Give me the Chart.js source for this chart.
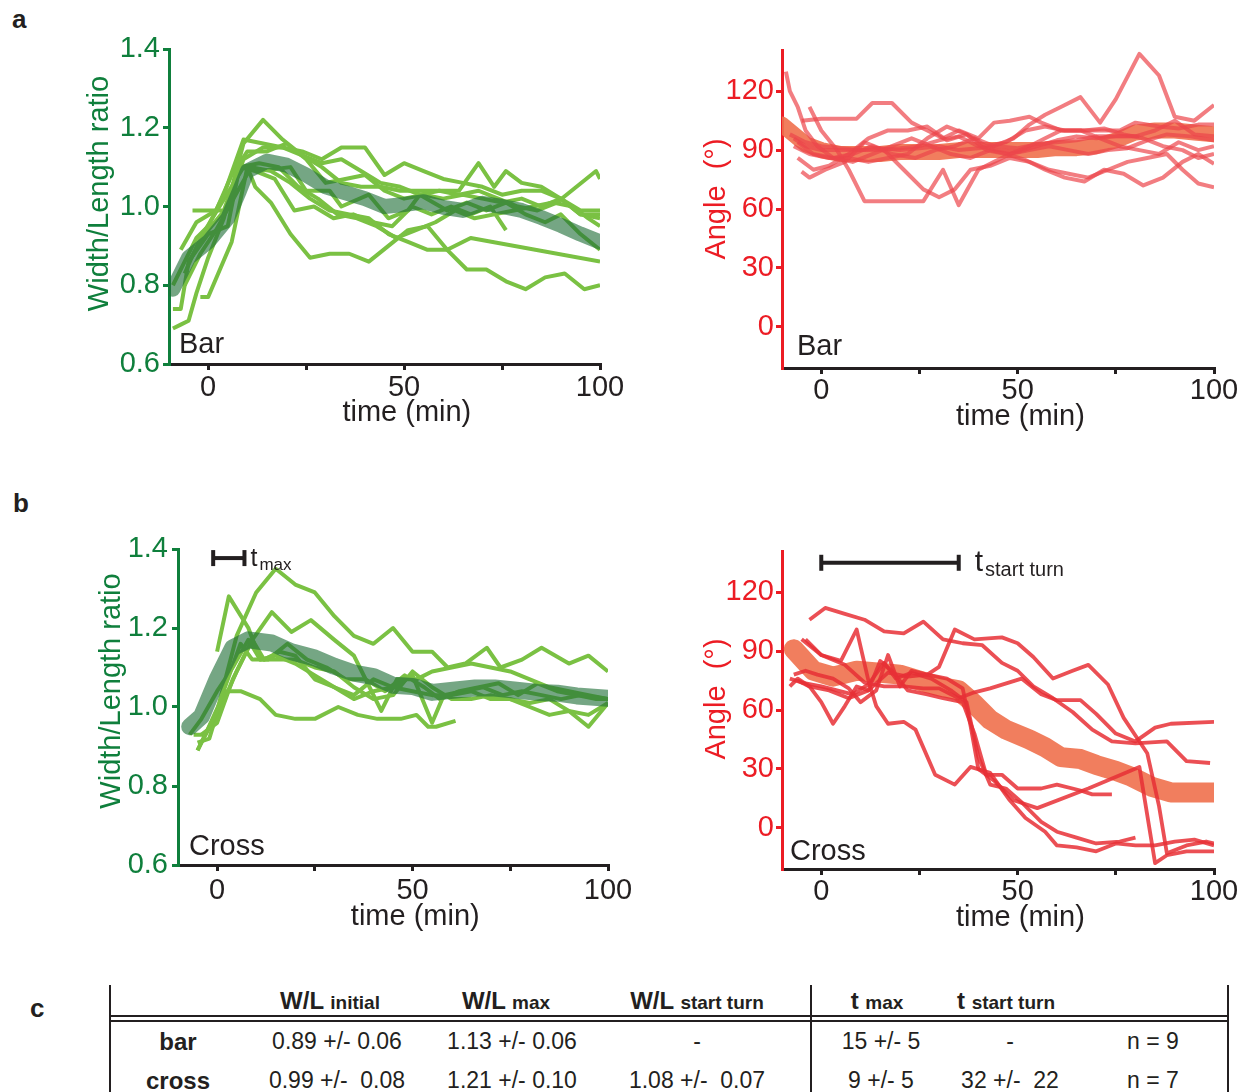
<!DOCTYPE html>
<html>
<head>
<meta charset="utf-8">
<script src="https://cdn.jsdelivr.net/npm/chart.js@4.4.1/dist/chart.umd.min.js"></script>
<style>
  body { margin: 0; background: #fff; }
  #page { position: relative; width: 1242px; height: 1092px; overflow: hidden; background: #fff;
          font-family: 'Liberation Sans', Arial, Helvetica, sans-serif; color: #231f20; }
  canvas { position: absolute; }
  .letter { position: absolute; font-weight: bold; font-size: 26px; line-height: 26px; }
  .cell { position: absolute; white-space: pre; transform: translate(-50%, -50%); font-size: 23px; line-height: 23px; }
  .head { font-weight: bold; font-size: 24px; }
  .head small { font-size: 19px; }
  .bold { font-weight: bold; font-size: 24px; }
  .rule { position: absolute; background: #231f20; }
</style>
</head>
<body>
<div id="page">
  <canvas id="barRatioChart" width="580" height="420" style="left:60px;top:20px"></canvas>
  <canvas id="barAngleChart" width="562" height="420" style="left:680px;top:20px"></canvas>
  <canvas id="crossRatioChart" width="580" height="420" style="left:60px;top:520px"></canvas>
  <canvas id="crossAngleChart" width="562" height="420" style="left:680px;top:520px"></canvas>
  <div class="letter" style="left:12px;top:6px">a</div>
  <div class="letter" style="left:13px;top:490px">b</div>
  <div class="letter" style="left:30px;top:995px">c</div>
  <div id="table"></div>
</div>
<script>
// axis ticks
const timeTicks = [0, 25, 50, 75, 100];
const timeTickLabels = ['0', '', '50', '', '100'];
const ratioTicks = [0.6, 0.8, 1.0, 1.2, 1.4];
const ratioTickLabels = ['0.6', '0.8', '1.0', '1.2', '1.4'];
const angleTicks = [0, 30, 60, 90, 120];
const angleTickLabels = ['0', '30', '60', '90', '120'];

// a, left: bar, width/length ratio, [time, ratio] per cell
const barRatioCells = [
  [[-2,0.77],[0,0.77],[6,0.91],[10,1.10],[12,1.05],[16,1.01],[21,0.93],[26,0.87],[31,0.88],[36,0.88],[41,0.86],[46,0.90],[51,0.94],[56,0.95],[61,0.89],[66,0.84],[71,0.84],[76,0.81],[81,0.79],[86,0.82],[91,0.83],[96,0.79],[100,0.80]],
  [[-9,0.69],[-7,0.70],[-5,0.71],[-3,0.78],[0,0.87],[4,0.97],[9,1.16],[14,1.22],[19,1.17],[24,1.13],[29,1.10],[34,1.06],[39,1.05],[44,1.05],[49,1.04],[54,1.04],[59,1.04],[64,1.04],[69,1.11],[73,1.05],[76,1.09],[80,1.06],[85,1.05],[90,1.02],[95,0.99],[100,0.99]],
  [[-9,0.80],[-6,0.86],[-3,0.92],[0,0.95],[4,1.03],[9,1.17],[14,1.16],[19,1.15],[24,1.14],[29,1.12],[34,1.15],[40,1.15],[45,1.08],[50,1.11],[55,1.09],[60,1.07],[65,1.06],[70,1.05],[75,1.03],[80,1.04],[85,1.04],[90,1.02],[95,0.98],[100,0.98]],
  [[-5,0.86],[0,0.94],[5,1.00],[9,1.12],[14,1.15],[19,1.15],[24,1.13],[29,1.11],[34,1.12],[39,1.09],[44,1.06],[49,1.05],[54,1.03],[59,1.04],[64,1.03],[69,1.04],[74,1.02],[79,1.00],[84,0.99],[89,1.01],[94,1.05],[99,1.09],[100,1.07]],
  [[-6,0.80],[-2,0.88],[2,0.94],[7,1.03],[11,1.10],[16,1.09],[21,1.06],[26,1.02],[31,0.99],[36,0.98],[41,0.97],[46,0.93],[51,0.91],[56,0.89],[61,0.89],[67,0.92],[100,0.86]],
  [[-4,0.99],[0,0.99],[4,0.99],[8,1.10],[12,1.09],[17,1.07],[22,0.99],[27,1.00],[32,0.97],[37,0.98],[42,0.96],[47,0.95],[52,1.00],[57,0.98],[62,1.00],[67,0.98],[72,1.00],[76,0.94]],
  [[-6,0.83],[-2,0.92],[9,1.10],[13,1.09],[21,1.10],[25,1.04],[31,1.04],[34,1.00],[41,1.03],[46,0.97],[51,0.99],[54,1.03],[61,0.99],[66,1.01],[71,0.99],[76,1.01],[81,0.98],[86,0.96],[90,0.98],[95,0.93],[100,0.89]],
  [[-9,0.74],[-7,0.74],[-5,0.86],[0,0.93],[5,0.95],[8,1.10],[13,1.11],[18,1.10],[23,1.05],[28,1.02],[33,0.98],[38,0.97],[43,0.95],[48,0.92],[53,0.94],[58,0.96],[63,0.99],[68,0.97],[73,0.98],[78,0.99],[83,1.00],[88,1.01],[93,1.00],[97,0.97],[100,0.95]],
  [[-7,0.89],[-3,0.96],[2,0.99],[6,1.08],[10,1.14],[15,1.14],[20,1.16],[25,1.12],[30,1.06],[35,1.07],[40,1.08],[45,1.04],[50,1.02],[55,1.03],[60,1.02],[65,1.03],[70,1.02],[75,1.01],[80,1.02],[85,1.00],[90,1.02],[95,0.98],[100,0.97]]
];
const barRatioMean = [[-9,0.79],[-5,0.87],[0,0.91],[5,0.97],[8,1.04],[10,1.09],[15,1.115],[20,1.105],[25,1.08],[30,1.05],[35,1.035],[40,1.02],[45,1.00],[50,1.005],[55,1.012],[60,0.998],[65,0.99],[70,1.008],[75,1.00],[80,0.99],[85,0.972],[90,0.952],[95,0.93],[100,0.91]];

// a, right: bar, angle in degrees
const barAngleCells = [
  [[-9,130],[-8,120],[-6,112],[-4,100],[-1,92],[3,86],[8,84],[13,88],[18,92],[23,96],[28,92],[33,88],[38,86],[43,90],[48,88],[53,90],[58,92],[63,90],[68,88],[73,90],[78,91],[83,95],[88,98],[94,97],[100,95]],
  [[-5,105],[0,106],[9,106],[13,114],[18,114],[23,104],[27,100],[31,96],[35,100],[40,96],[44,104],[48,105],[53,107],[56,104],[61,100],[66,100],[71,100],[76,100],[80,104],[86,102],[91,101],[96,103],[100,103]],
  [[-6,94],[-2,88],[3,86],[8,88],[13,92],[18,88],[24,86],[29,90],[34,92],[39,96],[44,92],[49,96],[53,103],[57,108],[61,112],[66,117],[71,104],[75,116],[81,139],[86,128],[90,107],[95,105],[100,113]],
  [[-3,112],[0,100],[4,90],[7,80],[11,64],[16,64],[21,64],[26,64],[31,80],[35,62],[40,80],[44,84],[48,88],[53,92],[57,96],[61,100],[66,100],[71,96],[76,92],[81,90],[86,88],[91,94],[96,90],[100,92]],
  [[-5,79],[-3,76],[1,80],[6,84],[11,94],[16,90],[21,80],[26,70],[30,66],[34,70],[38,80],[43,82],[48,86],[53,84],[58,80],[63,78],[68,76],[73,80],[78,84],[83,86],[88,88],[92,80],[96,73],[100,71]],
  [[-7,92],[-3,88],[2,86],[7,86],[12,84],[17,86],[22,88],[27,96],[32,102],[37,98],[42,90],[47,88],[52,85],[57,80],[62,76],[67,74],[72,80],[77,78],[82,72],[87,76],[92,84],[96,88],[100,83]],
  [[-8,98],[-4,94],[0,92],[5,91],[10,90],[15,90],[20,91],[25,92],[30,95],[35,97],[40,92],[45,90],[50,89],[55,92],[60,95],[65,97],[70,96],[75,97],[80,97],[85,100],[90,105],[95,98],[100,97]],
  [[-6,86],[-2,80],[2,82],[7,88],[12,96],[17,100],[22,100],[27,102],[32,95],[37,98],[42,92],[47,94],[52,100],[57,102],[62,100],[67,100],[72,101],[77,98],[82,96],[87,92],[92,90],[96,86],[100,88]],
  [[-7,96],[-4,92],[0,90],[5,90],[10,90],[15,91],[20,90],[25,91],[30,92],[35,90],[40,91],[45,92],[50,91],[55,93],[60,94],[65,95],[70,97],[75,97],[81,97]]
];
const barAngleMean = [[-10,103],[-7,98],[-4,93],[0,90],[5,88],[10,88],[15,88],[20,89],[25,89],[30,89],[35,90],[40,90],[45,90],[50,90],[55,90],[60,91],[65,91],[70,92],[75,95],[80,99],[85,100],[90,100],[95,99],[100,98]];

// b, left: cross, width/length ratio
const crossRatioCells = [
  [[-5,0.89],[0,0.99],[5,1.18],[10,1.29],[15,1.35],[20,1.31],[25,1.29],[30,1.23],[35,1.18],[40,1.16],[45,1.20],[50,1.14],[55,1.14],[59,1.10],[63.5,1.11],[69,1.15],[72.5,1.10],[78,1.12],[83,1.15],[90,1.11],[95,1.13],[100,1.09]],
  [[0,1.14],[3,1.28],[8,1.20],[11,1.12],[15,1.12],[20,1.12],[25,1.10],[30,1.09],[35,1.05],[40,1.02],[45,1.03],[50,1.09],[55,1.05],[60,1.02],[65,1.02],[70,1.03],[75,1.02],[80,1.01],[85,1.02],[90,0.99],[95,0.98],[100,1.01]],
  [[-4,0.93],[0,0.96],[4,1.07],[9,1.17],[14,1.24],[19,1.19],[24,1.22],[30,1.17],[35,1.13],[39,1.05],[42,0.99],[46,1.07],[51,1.07],[55,1.09],[60,1.10],[65,1.11],[70,1.10],[75,1.09],[80,1.07],[85,1.05],[90,1.04],[95,1.03],[100,1.02]],
  [[-5,0.89],[-3,0.93],[2,1.04],[6,1.04],[11,1.02],[15,0.98],[20,0.97],[25,0.97],[31,1.00],[36,0.98],[41,0.97],[47,0.97],[51,0.98],[54,0.95],[56,0.95],[61,0.965]],
  [[-6,0.93],[-3,0.93],[1,1.00],[5,1.09],[9,1.17],[12,1.12],[16,1.14],[20,1.13],[25,1.07],[30,1.05],[35,1.02],[40,1.04],[45,1.05],[50,1.04],[55,1.03],[60,1.03],[65,1.04],[70,1.02],[75,1.02],[80,1.00],[85,0.98],[90,0.99],[95,0.95],[100,1.01]],
  [[-7,0.93],[-4,0.97],[0,1.04],[4,1.10],[8,1.17],[11,1.12],[15,1.13],[20,1.11],[25,1.08],[30,1.05],[35,1.03],[40,1.07],[45,1.05],[50,1.08],[55,0.96],[58,1.03],[63,1.04],[68,1.05],[73,1.03],[78,1.04],[83,1.03],[88,1.02],[93,1.03],[100,1.02]],
  [[-5,0.91],[-2,0.92],[2,1.05],[6,1.16],[9,1.12],[13,1.12],[18,1.16],[23,1.12],[28,1.10],[33,1.07],[38,1.07],[43,1.04],[48,1.08],[53,1.05],[57,1.02],[62,1.04],[67,1.05],[72,1.06],[77,1.03],[82,1.06],[87,1.04],[92,1.03],[97,1.02],[100,1.02]]
];
const crossRatioMean = [[-7,0.95],[-4,0.976],[0,1.07],[4,1.15],[8,1.17],[14,1.162],[19,1.14],[25,1.124],[30,1.103],[35,1.086],[40,1.077],[45,1.055],[50,1.052],[55,1.037],[61,1.043],[66,1.048],[71,1.048],[76,1.043],[82,1.037],[87,1.035],[92,1.028],[100,1.022]];

// b, right: cross, angle in degrees
const crossAngleCells = [
  [[-3,106],[1,112],[6,109],[11,106],[16,100],[21,99],[26,105],[31,96],[36,94],[41,93],[46,84],[50,80],[54,72],[59,66],[64,59],[69,50],[74,44],[80,43],[88,44],[93,34],[99,33]],
  [[-5,96],[0,88],[6,83],[11,74],[16,72],[21,72],[26,71],[30,71],[35,66],[39,69],[43,71],[51,76],[56,68],[60,65],[66,65],[70,58],[75,48],[80,44],[85,51],[89,53],[100,54]],
  [[-6,75],[-3,72],[2,70],[7,66],[12,70],[17,79],[22,77],[27,78],[30,82],[34,101],[39,96],[46,97],[50,94],[54,87],[59,76],[64,80],[68,83],[73,73],[77,56],[83,38],[86,11],[88,-13],[93,-9],[98,-7],[100,-8]],
  [[-4,96],[0,88],[5,85],[9,101],[12,75],[14,62],[17,53],[21,54],[24,50],[29,27],[34,22],[38,31],[43,28],[48,14],[52,5],[57,-2],[60,-9],[65,-10],[70,-12],[75,-8],[80,-9],[85,-9],[90,-7],[95,-6],[100,-9]],
  [[-8,72],[-6,76],[-3,72],[0,64],[3,53],[6,62],[9,72],[12,70],[15,85],[18,80],[22,70],[27,68],[31,66],[36,64],[39,48],[42,27],[46,27],[50,20],[56,20],[60,22],[66,19],[69,17],[74,17]],
  [[-7,78],[-4,80],[-1,78],[3,76],[7,71],[10,64],[14,70],[17,88],[20,72],[23,80],[27,78],[32,76],[36,71],[38,52],[40,30],[44,24],[49,14],[55,10],[68,20],[81,31],[85,-18],[88,-14],[93,-12],[100,-12]],
  [[-8,76],[-5,74],[0,72],[4,70],[8,68],[12,73],[16,84],[19,76],[23,79],[28,76],[33,70],[37,64],[40,36],[43,22],[47,20],[51,13],[56,3],[60,-2],[65,-5],[70,-8],[76,-7],[80,-5]]
];
const crossAngleMean = [[-7,91],[-2,80],[3,77],[9,80],[15,79],[20,78],[25,75],[30,72],[35,70],[39,63],[43,55],[47,50],[53,45],[57,41],[61,36],[66,35],[70,32],[75,29],[79,26],[84,21],[89,18],[95,18],[100,18]];

// time spans marked above the cross panels (min)
const tMaxSpan = [-1, 7];
const tStartTurnSpan = [0, 35];

// table c
const tableHeads = [['W/L', 'initial'], ['W/L', 'max'], ['W/L', 'start turn'], ['t', 'max'], ['t', 'start turn']];
const tableRows = [
  ['bar', '0.89 +/- 0.06', '1.13 +/- 0.06', '-', '15 +/- 5', '-', 'n = 9'],
  ['cross', '0.99 +/-  0.08', '1.21 +/- 0.10', '1.08 +/-  0.07', '9 +/- 5', '32 +/-  22', 'n = 7']
];

const ink = '#231f20';
const green = '#0f7f3c';
const lightGreen = '#7ac143';
const red = '#ec1c24';
const family = "'Liberation Sans', Arial, Helvetica, sans-serif";
const axisFont = { family: family, size: 29 };

// axis titles, panel name and the t label next to the span bar
const panelText = {
  id: 'panelText',
  afterDatasetsDraw(chart, args, opts) {
    const { ctx, chartArea, scales } = chart;
    ctx.save();
    ctx.font = '29px ' + family;
    ctx.textAlign = 'center';
    ctx.textBaseline = 'middle';
    ctx.fillStyle = ink;
    ctx.fillText('time (min)', scales.x.getPixelForValue(opts.xTitleAt), chartArea.bottom + opts.xTitleDy);
    ctx.save();
    ctx.translate(opts.yTitleX, (chartArea.top + chartArea.bottom) / 2 + opts.yTitleDy);
    ctx.rotate(-Math.PI / 2);
    ctx.fillStyle = opts.yTitleColor;
    ctx.fillText(opts.yTitle, 0, 0);
    ctx.restore();

    ctx.textAlign = 'left';
    ctx.textBaseline = 'alphabetic';
    ctx.fillText(opts.name, chartArea.left + opts.dx, chartArea.bottom - opts.dy);
    if (opts.mark) {
      const m = opts.mark;
      const x = scales.x.getPixelForValue(m.x) + m.gap;
      const y = scales.y.getPixelForValue(m.y);
      ctx.font = m.size + 'px ' + family;
      ctx.fillText('t', x, y + m.dyMain);
      const w = ctx.measureText('t').width;
      ctx.font = m.subSize + 'px ' + family;
      ctx.fillText(m.sub, x + w + 2, y + m.dySub);
    }
    ctx.restore();
  }
};

function traceSets(traces, color, width, order) {
  return traces.map(trace => ({
    data: trace,
    borderColor: color,
    borderWidth: width,
    borderJoinStyle: 'round',
    pointRadius: 0,
    fill: false,
    order: order
  }));
}

function meanSet(trace, color, width, order) {
  return {
    data: trace,
    borderColor: color,
    borderWidth: width,
    borderCapStyle: 'round',
    borderJoinStyle: 'round',
    pointRadius: 0,
    fill: false,
    order: order
  };
}

function spanSet(span, level) {
  return {
    data: span.map(t => [t, level]),
    borderColor: ink,
    borderWidth: 4,
    pointStyle: 'line',
    pointRotation: 90,
    pointRadius: 8,
    pointBorderWidth: 4,
    pointBorderColor: ink,
    order: -1
  };
}

function makeChart(canvasId, cfg) {
  return new Chart(document.getElementById(canvasId), {
    type: 'line',
    data: { datasets: cfg.datasets },
    options: {
      responsive: false,
      animation: false,
      events: [],
      layout: { padding: cfg.padding },
      elements: { point: { radius: 0 }, line: { tension: 0 } },
      plugins: {
        legend: { display: false },
        tooltip: { enabled: false },
        panelText: Object.assign({ yTitle: cfg.yTitle, yTitleColor: cfg.axisColor, xTitleAt: 50.7 }, cfg.text)
      },
      scales: {
        x: {
          type: 'linear',
          min: -10,
          max: 100,
          afterBuildTicks: s => { s.ticks = timeTicks.map(v => ({ value: v })); },
          afterFit: s => { s.height = cfg.xHeight; },
          border: { color: ink, width: 3 },
          grid: { drawOnChartArea: false, color: ink, lineWidth: 3, tickLength: 6 },
          ticks: {
            color: ink, font: axisFont, padding: cfg.xPad, maxRotation: 0, autoSkip: false,
            callback: (v, i) => timeTickLabels[i]
          }
        },
        y: {
          min: cfg.yMin,
          max: cfg.yMax,
          afterBuildTicks: s => { s.ticks = cfg.yTicks.map(v => ({ value: v })); },
          afterFit: s => { s.width = cfg.yWidth; },
          border: { color: cfg.axisColor, width: 3 },
          grid: { drawOnChartArea: false, color: cfg.axisColor, lineWidth: 3, tickLength: 6 },
          ticks: {
            color: cfg.axisColor, font: axisFont, padding: cfg.yPad, autoSkip: false,
            callback: (v, i) => cfg.yLabels[i]
          }
        }
      }
    },
    plugins: [panelText]
  });
}

const ratioAxis = { yMin: 0.6, yMax: 1.4, yTicks: ratioTicks, yLabels: ratioTickLabels, yTitle: 'Width/Length ratio', axisColor: green };
const angleAxis = { yMin: -21, yMax: 141, yTicks: angleTicks, yLabels: angleTickLabels, yTitle: 'Angle  (°)', axisColor: red };

makeChart('barRatioChart', Object.assign({}, ratioAxis, {
  datasets: [meanSet(barRatioMean, 'rgba(32,112,56,0.62)', 15, 0)].concat(traceSets(barRatioCells, lightGreen, 4, 1)),
  padding: { left: 0, top: 29, right: 40, bottom: 0 },
  yWidth: 109, xHeight: 76, xPad: 1, yPad: 3,
  text: { name: 'Bar', dx: 10, dy: 11, xTitleDy: 49, yTitleX: 40, yTitleDy: -13 }
}));

makeChart('barAngleChart', Object.assign({}, angleAxis, {
  datasets: traceSets(barAngleCells, 'rgba(236,70,76,0.7)', 4, 1).concat([meanSet(barAngleMean, 'rgba(239,112,76,0.9)', 16, 2)]),
  padding: { left: 0, top: 30, right: 28, bottom: 0 },
  yWidth: 102, xHeight: 72, xPad: 0, yPad: 2,
  text: { name: 'Bar', dx: 15, dy: 13, xTitleDy: 49, yTitleX: 37, yTitleDy: -10 }
}));

makeChart('crossRatioChart', Object.assign({}, ratioAxis, {
  datasets: [spanSet(tMaxSpan, 1.377), meanSet(crossRatioMean, 'rgba(32,112,56,0.62)', 17, 0)].concat(traceSets(crossRatioCells, lightGreen, 4, 1)),
  padding: { left: 0, top: 29, right: 32, bottom: 0 },
  yWidth: 118, xHeight: 75, xPad: 3, yPad: 4,
  text: { name: 'Cross', dx: 11, dy: 10, xTitleDy: 52, yTitleX: 52, yTitleDy: -16,
          mark: { x: tMaxSpan[1], y: 1.377, gap: 6, sub: 'max', size: 25, subSize: 17, dyMain: 8, dySub: 12 } }
}));

makeChart('crossAngleChart', Object.assign({}, angleAxis, {
  datasets: [spanSet(tStartTurnSpan, 135)].concat(traceSets(crossAngleCells, 'rgba(232,48,54,0.85)', 3.8, 1), [meanSet(crossAngleMean, 'rgba(239,112,76,0.9)', 20, 2)]),
  padding: { left: 0, top: 31, right: 28, bottom: 0 },
  yWidth: 102, xHeight: 71, xPad: 0, yPad: 2,
  text: { name: 'Cross', dx: 8, dy: 9, xTitleDy: 49, yTitleX: 37, yTitleDy: -11,
          mark: { x: tStartTurnSpan[1], y: 135, gap: 16, sub: 'start turn', size: 30, subSize: 20, dyMain: 8, dySub: 13 } }
}));

// table c
const headX = [330, 506, 697, 877, 1006];
const colX = [178, 337, 512, 697, 881, 1010, 1153];
const rowY = [1041, 1080];
const table = document.getElementById('table');
function addRule(left, top, width, height) {
  const d = document.createElement('div');
  d.className = 'rule';
  d.style.cssText = `left:${left}px;top:${top}px;width:${width}px;height:${height}px`;
  table.appendChild(d);
}
function addCell(text, x, y, cls) {
  const d = document.createElement('div');
  d.className = 'cell' + (cls ? ' ' + cls : '');
  d.style.left = x + 'px';
  d.style.top = y + 'px';
  if (Array.isArray(text)) {
    d.innerHTML = text[0] + ' <small>' + text[1] + '</small>';
  } else {
    d.textContent = text;
  }
  table.appendChild(d);
}
addRule(109, 985, 2, 107);
addRule(810, 985, 2, 107);
addRule(1227, 985, 2, 107);
addRule(109, 1015, 1120, 2);
addRule(109, 1020, 1120, 2);
tableHeads.forEach((h, i) => addCell(h, headX[i], 1001, 'head'));
tableRows.forEach((row, r) => {
  row.forEach((v, c) => addCell(v, colX[c], rowY[r], c === 0 ? 'bold' : ''));
});
</script>
</body>
</html>
